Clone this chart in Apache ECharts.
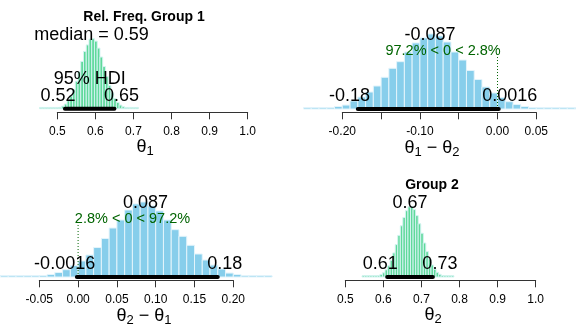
<!DOCTYPE html>
<html>
<head>
<meta charset="utf-8">
<script src="https://cdn.jsdelivr.net/npm/echarts@6/dist/echarts.min.js"></script>
<style>
  html, body { margin: 0; padding: 0; background: #ffffff; }
  #chart { width: 576px; height: 336px; }
</style>
</head>
<body>
<div id="chart"></div>
<script>
// ---- Posterior samples, binned (counts per bin) ----
// theta1: relative frequency, group 1
const theta1BinStart = 0.4536;
const theta1BinWidth = 0.0072;
const theta1Counts = [1, 1, 2, 3, 4, 6, 10, 19, 35, 63, 107, 170, 258, 369, 498, 636, 771, 858,
  936, 941, 909, 815, 695, 567, 432, 311, 212, 135, 84, 49, 26, 14, 7, 4, 2, 1];

// theta1 - theta2
const diff12BinStart = -0.25;
const diff12BinWidth = 0.01;
const diff12Counts = [2, 3, 5, 12, 29, 46, 93, 139, 197, 267, 368, 472, 549, 661, 766, 824, 870,
  847, 777, 661, 568, 447, 342, 255, 186, 133, 85, 52, 29, 17, 9, 5, 3, 2, 1, 1];

// theta2 - theta1
const diff21BinStart = -0.11;
const diff21BinWidth = 0.01;
const diff21Counts = [1, 1, 2, 3, 5, 9, 17, 29, 52, 85, 133, 186, 255, 342, 447, 568, 661, 777,
  847, 870, 824, 766, 661, 549, 472, 368, 267, 197, 139, 93, 46, 29, 12, 5, 3, 2];

// theta2: group 2
const theta2BinStart = 0.544;
const theta2BinWidth = 0.0067;
const theta2Counts = [1, 1, 2, 3, 5, 9, 18, 34, 57, 97, 151, 225, 324, 436, 560, 689, 801, 892,
  944, 948, 907, 826, 716, 589, 458, 342, 242, 162, 105, 63, 36, 20, 11, 5, 3, 1];

// ---- Summaries (panel order: theta1, theta1-theta2, theta2-theta1, theta2) ----
const centralValues = [0.59, -0.087, 0.087, 0.67];
const hdiLower = [0.52, -0.18, -0.0016, 0.61];
const hdiUpper = [0.65, 0.0016, 0.18, 0.73];
const pctBelowComp = [null, 97.2, 2.8, null];
const pctAboveComp = [null, 2.8, 97.2, null];
const compValue = 0;

// ---- Axis ticks ----
const axisMin = [0.5, -0.2, -0.05, 0.5];
const axisMax = [1.0, 0.05, 0.2, 1.0];
const axisStep = [0.1, 0.05, 0.05, 0.1];
const tickDecimals = [1, 2, 2, 1];
const unlabelledTicks = [[], [-0.15, -0.05], [], []];

const panelTitles = ['Rel. Freq. Group 1', '', '', 'Group 2'];

// ---- Layout & style ----
const FONT = '"Liberation Sans", Arial, Helvetica, sans-serif';
const grids = [
  { left: 57.3, top: 20, width: 190.4, height: 92.3 },
  { left: 342.3, top: 20, width: 194, height: 92.3 },
  { left: 39.3, top: 188, width: 194, height: 92.3 },
  { left: 345.3, top: 188, width: 190.4, height: 92.3 }
];
const yRanges = [[-48, 1193], [-38, 1032], [-38, 1032], [-44, 1197]];
const GREEN = { fill: '#5fd99a', stroke: '#d3f3f1' };
const BLUE = { fill: '#87ceeb', stroke: '#e3f4fb' };
const panelColours = [GREEN, BLUE, BLUE, GREEN];

const histograms = [
  [theta1BinStart, theta1BinWidth, theta1Counts],
  [diff12BinStart, diff12BinWidth, diff12Counts],
  [diff21BinStart, diff21BinWidth, diff21Counts],
  [theta2BinStart, theta2BinWidth, theta2Counts]
];

const measureCtx = document.createElement('canvas').getContext('2d');
function textWidth(text, size) {
  measureCtx.font = size + 'px ' + FONT;
  return measureCtx.measureText(text).width;
}
function fmt(v) {
  return String(v);
}

function histSeries(i) {
  const [start, width, counts] = histograms[i];
  const rows = counts.map((c, k) => [start + k * width, start + (k + 1) * width, c]);
  const col = panelColours[i];
  return {
    type: 'custom',
    xAxisIndex: i,
    yAxisIndex: i,
    data: rows,
    encode: { x: [0, 1], y: 2 },
    clip: false,
    silent: true,
    renderItem(params, api) {
      const topLeft = api.coord([api.value(0), api.value(2)]);
      const botRight = api.coord([api.value(1), 0]);
      let h = botRight[1] - topLeft[1];
      if (h < 1.3) h = 1.3;
      return {
        type: 'rect',
        shape: { x: topLeft[0], y: botRight[1] - h, width: botRight[0] - topLeft[0], height: h },
        style: { fill: col.fill, stroke: col.stroke, lineWidth: 1 }
      };
    }
  };
}

function annotationSeries(i) {
  return {
    type: 'custom',
    xAxisIndex: i,
    yAxisIndex: i,
    data: [[centralValues[i], 0]],
    clip: false,
    silent: true,
    z: 5,
    renderItem(params, api) {
      const children = [];
      const lo = api.coord([hdiLower[i], 0]);
      const hi = api.coord([hdiUpper[i], 0]);
      const mid = api.coord([centralValues[i], 0]);
      const base = lo[1];
      const txt = (text, x, y, size, fill, align) => ({
        type: 'text', x, y,
        style: { text, fontSize: size, fontFamily: FONT, fill, align: align || 'center', verticalAlign: 'middle' }
      });

      // comparison value marker with percentages
      if (pctBelowComp[i] !== null) {
        const cv = api.coord([compValue, 0]);
        children.push({
          type: 'line',
          shape: { x1: cv[0], y1: base - 52, x2: cv[0], y2: base },
          style: { stroke: '#006400', lineWidth: 1, lineDash: [1, 2] }
        });
        const gText = pctBelowComp[i] + '% < ' + compValue + ' < ' + pctAboveComp[i] + '%';
        const gw = textWidth(gText, 14.5);
        children.push(txt(gText, cv[0] - gw * pctBelowComp[i] / 100, base - 58, 14.5, '#006400', 'left'));
      }

      // HDI bar
      children.push({
        type: 'line',
        shape: { x1: lo[0], y1: base, x2: hi[0], y2: base },
        style: { stroke: '#000', lineWidth: 4, lineCap: 'round' }
      });

      // central value
      const cText = i === 0 ? 'median = ' + fmt(centralValues[i]) : fmt(centralValues[i]);
      children.push(txt(cText, mid[0], base - 73.5, 18, '#000'));

      if (i === 0) {
        const m = api.coord([(hdiLower[i] + hdiUpper[i]) / 2, 0]);
        children.push(txt('95% HDI', m[0], base - 30, 18, '#000'));
      }

      // HDI limits
      const loText = fmt(hdiLower[i]);
      const hiText = fmt(hdiUpper[i]);
      children.push(txt(loText, lo[0] - 0.7 * textWidth(loText, 18), base - 13, 18, '#000', 'left'));
      children.push(txt(hiText, hi[0] - 0.3 * textWidth(hiText, 18), base - 13, 18, '#000', 'left'));

      return { type: 'group', children };
    }
  };
}

function xAxis(i) {
  return {
    type: 'value',
    gridIndex: i,
    min: axisMin[i],
    max: axisMax[i],
    interval: axisStep[i],
    axisLine: { show: true, onZero: false, lineStyle: { color: '#333', width: 1 } },
    axisTick: { show: true, length: 7, lineStyle: { color: '#333', width: 1 } },
    splitLine: { show: false },
    axisLabel: {
      margin: 13,
      fontSize: 12,
      fontFamily: FONT,
      color: '#000',
      hideOverlap: false,
      showMinLabel: true,
      showMaxLabel: true,
      formatter(v) {
        if (unlabelledTicks[i].some(t => Math.abs(t - v) < 1e-9)) return '';
        return v.toFixed(tickDecimals[i]);
      }
    }
  };
}

function yAxis(i) {
  return { type: 'value', gridIndex: i, min: yRanges[i][0], max: yRanges[i][1], show: false };
}

// axis titles with subscripts
const subRich = {
  t: { fontSize: 18, fontFamily: FONT, lineHeight: 20, verticalAlign: 'top', fill: '#000' },
  s: { fontSize: 13, fontFamily: FONT, lineHeight: 11, verticalAlign: 'bottom', fill: '#000' }
};
const axisTitles = [
  { text: '{t|θ}{s|1}', x: 145, y: 148 },
  { text: '{t|θ}{s|1}{t| − θ}{s|2}', x: 432, y: 149 },
  { text: '{t|θ}{s|2}{t| − θ}{s|1}', x: 144, y: 317 },
  { text: '{t|θ}{s|2}', x: 433, y: 316 }
];
const titleY = [16.7, 0, 0, 184.7];
const titleX = [144, 0, 0, 432];

const graphic = [];
axisTitles.forEach(a => graphic.push({
  type: 'text', x: a.x, y: a.y, silent: true,
  style: { text: a.text, rich: subRich, align: 'center', verticalAlign: 'middle', fill: '#000' }
}));
panelTitles.forEach((t, i) => {
  if (!t) return;
  graphic.push({
    type: 'text', x: titleX[i], y: titleY[i], silent: true,
    style: { text: t, fontSize: 14, fontWeight: 'bold', fontFamily: FONT, fill: '#000',
      align: 'center', verticalAlign: 'middle' }
  });
});

const idx = [0, 1, 2, 3];
const chart = echarts.init(document.getElementById('chart'), null, { renderer: 'canvas' });
chart.setOption({
  animation: false,
  backgroundColor: '#ffffff',
  grid: grids.map(g => Object.assign({ containLabel: false, outerBoundsMode: 'none' }, g)),
  xAxis: idx.map(xAxis),
  yAxis: idx.map(yAxis),
  series: idx.map(histSeries).concat(idx.map(annotationSeries)),
  graphic
});
</script>
</body>
</html>
